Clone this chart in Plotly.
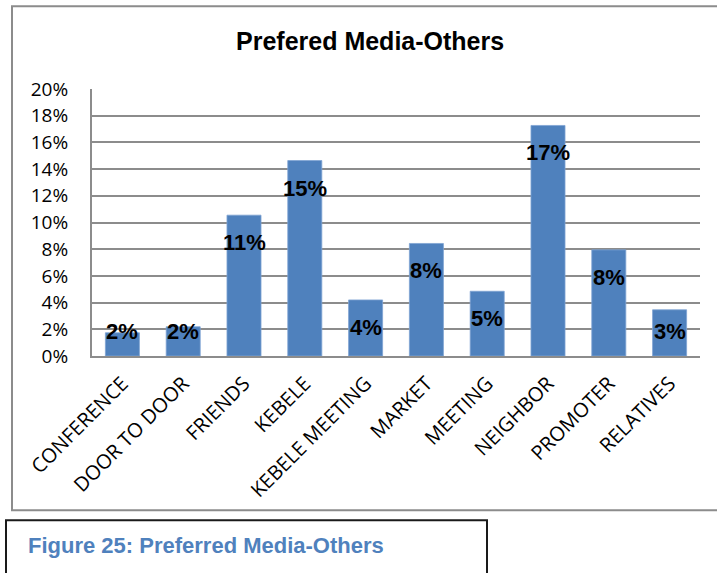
import plotly.graph_objects as go

categories = ["CONFERENCE", "DOOR TO DOOR", "FRIENDS", "KEBELE", "KEBELE MEETING",
              "MARKET", "MEETING", "NEIGHBOR", "PROMOTER", "RELATIVES"]
values = [0.0174, 0.0219, 0.1055, 0.1464, 0.0420, 0.0843, 0.0485, 0.1727, 0.0795, 0.0346]
value_labels = ["2%", "2%", "11%", "15%", "4%", "8%", "5%", "17%", "8%", "3%"]
y_ticks = [0, 0.02, 0.04, 0.06, 0.08, 0.10, 0.12, 0.14, 0.16, 0.18, 0.20]
y_tick_labels = ["0%", "2%", "4%", "6%", "8%", "10%", "12%", "14%", "16%", "18%", "20%"]

W, H = 717, 573
L, R, T, B = 92, 17, 89, 216.5
plot_w = W - L - R
plot_h = H - T - B
y_max = 0.20
px_per_unit = plot_h / y_max

def px_x(p):
    return (p - L) / plot_w

def px_y(p):
    return (H - B - p) / plot_h

fig = go.Figure()
fig.add_trace(go.Bar(
    x=categories, y=values,
    marker=dict(color="#4F81BD", line=dict(color="#7FA3D3", width=0.8)),
    width=0.56,
    hoverinfo="skip",
))

annotations = []
for c, v, lab in zip(categories, values, value_labels):
    bar_px = v * px_per_unit
    shift = -min(27.5, bar_px - 24.5)
    annotations.append(dict(
        x=c, y=v, xref="x", yref="y", text="<b>" + lab + "</b>", showarrow=False,
        yanchor="middle", xanchor="center", yshift=shift,
        font=dict(family="Liberation Sans, Arial, sans-serif", size=22, color="#000000"),
    ))

annotations.append(dict(
    x=px_x(370), y=px_y(41), xref="paper", yref="paper",
    text="<b>Prefered Media-Others</b>", showarrow=False,
    xanchor="center", yanchor="middle",
    font=dict(family="Liberation Sans, Arial, sans-serif", size=25, color="#000000"),
))
annotations.append(dict(
    x=px_x(26), y=px_y(546), xref="paper", yref="paper",
    text="<b>Figure 25: Preferred Media-Others</b>", showarrow=False,
    xanchor="left", yanchor="middle",
    font=dict(family="Liberation Sans, Arial, sans-serif", size=22, color="#4F81BD"),
))

shapes = [
    dict(type="rect", xref="paper", yref="paper",
         x0=px_x(12), x1=px_x(722), y0=px_y(6), y1=px_y(511),
         line=dict(color="#8C8C8C", width=2), fillcolor="rgba(0,0,0,0)", layer="below"),
    dict(type="rect", xref="paper", yref="paper",
         x0=px_x(6), x1=px_x(487), y0=px_y(521), y1=px_y(580),
         line=dict(color="#1A1A1A", width=2), fillcolor="rgba(0,0,0,0)", layer="below"),
]

fig.update_layout(
    width=W, height=H,
    margin=dict(l=L, r=R, t=T, b=B, pad=0),
    paper_bgcolor="white", plot_bgcolor="white",
    showlegend=False,
    bargap=0.44,
    annotations=annotations,
    shapes=shapes,
    font=dict(family="Open Sans, sans-serif", color="#000000"),
)
fig.update_xaxes(
    type="category", tickangle=-45,
    tickfont=dict(family="Open Sans, sans-serif", size=20, color="#000000"),
    showline=True, linecolor="#8C8C8C", linewidth=2,
    showgrid=False, ticks="", ticklen=0, ticklabelstandoff=6,
)
fig.update_yaxes(
    range=[0, y_max], tickvals=y_ticks, ticktext=y_tick_labels,
    tickfont=dict(family="Open Sans, sans-serif", size=19, color="#000000"),
    showline=True, linecolor="#8C8C8C", linewidth=2,
    showgrid=True, gridcolor="#8C8C8C", gridwidth=1.5,
    ticks="", ticklen=0, zeroline=False, ticklabelstandoff=18,
)

fig.write_html("out.html", config={"displayModeBar": False},
               post_script="document.body.style.margin='0';document.body.style.overflow='hidden';")
